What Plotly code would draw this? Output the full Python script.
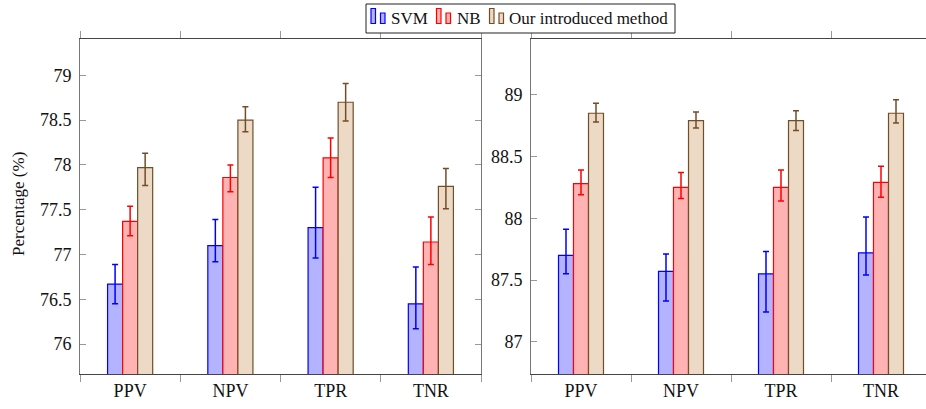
import plotly.graph_objects as go

categories = ["PPV", "NPV", "TPR", "TNR"]
series_names = ["SVM", "NB", "Our introduced method"]

# Left panel values
left_svm = [76.67, 77.10, 77.30, 76.45]
left_svm_plus = [0.22, 0.29, 0.45, 0.41]
left_svm_minus = [0.22, 0.18, 0.34, 0.28]
left_nb = [77.37, 77.86, 78.08, 77.14]
left_nb_plus = [0.17, 0.14, 0.22, 0.28]
left_nb_minus = [0.16, 0.16, 0.22, 0.25]
left_our = [77.97, 78.50, 78.70, 77.76]
left_our_plus = [0.16, 0.15, 0.21, 0.20]
left_our_minus = [0.20, 0.13, 0.21, 0.25]

# Right panel values
right_svm = [87.70, 87.57, 87.55, 87.72]
right_svm_plus = [0.21, 0.14, 0.18, 0.29]
right_svm_minus = [0.15, 0.24, 0.31, 0.18]
right_nb = [88.28, 88.25, 88.25, 88.29]
right_nb_plus = [0.11, 0.12, 0.14, 0.13]
right_nb_minus = [0.09, 0.09, 0.11, 0.12]
right_our = [88.85, 88.79, 88.79, 88.85]
right_our_plus = [0.08, 0.07, 0.08, 0.11]
right_our_minus = [0.07, 0.06, 0.08, 0.08]

edge_colors = ["#0000ff", "#ff0000", "#734d26"]
fill_colors = ["#b3b3ff", "#ffb3b3", "#ecd9c6"]

FONT = "Liberation Serif"
W, H = 926, 409


def px(x):
    return x / W


def py(y):
    return 1 - y / H


fig = go.Figure()

left = [(left_svm, left_svm_plus, left_svm_minus),
        (left_nb, left_nb_plus, left_nb_minus),
        (left_our, left_our_plus, left_our_minus)]
right = [(right_svm, right_svm_plus, right_svm_minus),
         (right_nb, right_nb_plus, right_nb_minus),
         (right_our, right_our_plus, right_our_minus)]

for panel, (xa, ya, data) in enumerate([("x", "y", left), ("x2", "y2", right)]):
    for i, (vals, plus, minus) in enumerate(data):
        fig.add_trace(go.Bar(
            x=categories, y=vals, name=series_names[i],
            xaxis=xa, yaxis=ya,
            marker=dict(color=fill_colors[i], line=dict(color=edge_colors[i], width=1.2)),
            error_y=dict(type="data", symmetric=False, array=plus, arrayminus=minus,
                         color=edge_colors[i], thickness=1.5, width=3),
            showlegend=False,
            offsetgroup=str(i),
        ))

y0 = py(374)
y1 = py(38.5)

common_x = dict(
    type="category", showline=True, linecolor="#444", linewidth=1,
    mirror="ticks", ticks="outside", tickson="boundaries", ticklen=7,
    tickcolor="#999", tickwidth=1,
    tickfont=dict(family=FONT, size=18, color="#111"),
    showgrid=False, zeroline=False,
)
common_y = dict(
    showline=True, linecolor="#777", linewidth=1,
    ticks="inside", ticklen=6, tickcolor="#999", tickwidth=1,
    tickfont=dict(family=FONT, size=18, color="#111"),
    showgrid=False, zeroline=False, ticklabelstandoff=4,
)

# Manual legend (pgfplots-style two-bar icons)
shapes = [dict(type="rect", xref="paper", yref="paper",
               x0=px(366), x1=px(675), y0=py(33), y1=py(4),
               line=dict(color="#222", width=1), fillcolor="white", layer="above")]
annotations = []
icon_x = [371, 436.5, 489.5]
text_x = [389, 455, 507]
for i in range(3):
    for k, (dx, top) in enumerate([(0, 8.5), (9.5, 13)]):
        shapes.append(dict(type="rect", xref="paper", yref="paper",
                           x0=px(icon_x[i] + dx), x1=px(icon_x[i] + dx + 4.5),
                           y0=py(23.5), y1=py(top),
                           line=dict(color=edge_colors[i], width=1.2),
                           fillcolor=fill_colors[i], layer="above"))
    annotations.append(dict(text=series_names[i], x=px(text_x[i]), y=py(18.5),
                            xref="paper", yref="paper", xanchor="left", yanchor="middle",
                            showarrow=False, font=dict(family=FONT, size=17, color="#111")))

annotations.append(dict(text="Percentage (%)", x=px(18), y=py(204), xref="paper", yref="paper",
                        xanchor="center", yanchor="middle", textangle=-90, showarrow=False,
                        font=dict(family=FONT, size=17, color="#111")))

fig.update_layout(
    width=W, height=H, autosize=False,
    margin=dict(l=0, r=0, t=0, b=0),
    paper_bgcolor="white", plot_bgcolor="white",
    barmode="group", bargap=0.55, bargroupgap=0.0,
    font=dict(family=FONT, size=17, color="#111"),
    showlegend=False,
    xaxis=dict(domain=[px(80), px(481)], range=[-0.5, 3.5], anchor="y", **common_x),
    yaxis=dict(domain=[y0, y1], range=[75.666, 79.412], anchor="x", mirror="ticks",
               tickvals=[76, 76.5, 77, 77.5, 78, 78.5, 79], **common_y),
    xaxis2=dict(domain=[px(531), 1.0], range=[-0.5, 3.45], anchor="y2", **common_x),
    yaxis2=dict(domain=[y0, y1], range=[86.739, 89.455], anchor="x2", mirror=False,
                tickvals=[87, 87.5, 88, 88.5, 89], **common_y),
    shapes=shapes,
    annotations=annotations,
)

fig.write_html("out.html", config={"displayModeBar": False},
               post_script="document.body.style.margin='0';document.body.style.padding='0';")
